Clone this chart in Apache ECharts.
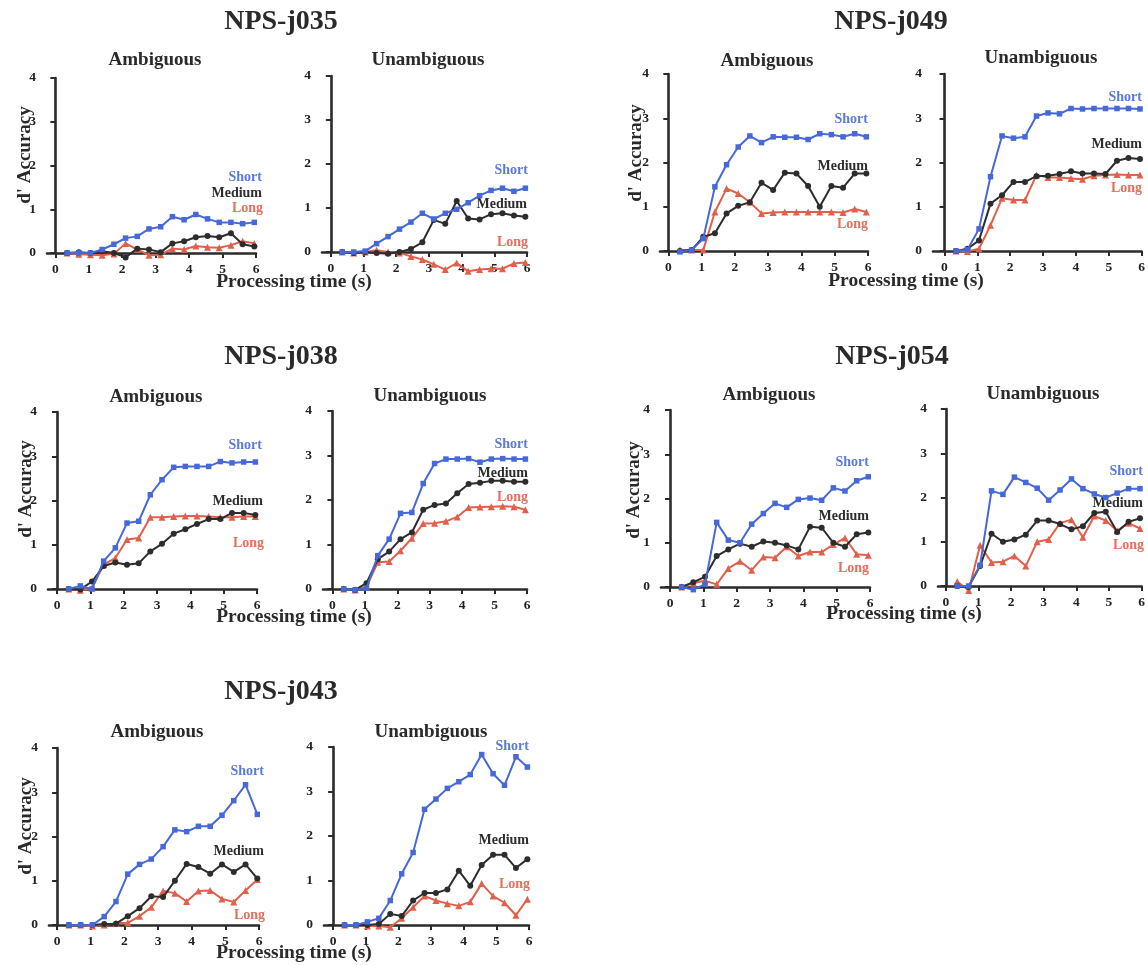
<!DOCTYPE html>
<html><head><meta charset="utf-8">
<script src="https://cdn.jsdelivr.net/npm/echarts@6/dist/echarts.min.js"></script>
<style>html,body{margin:0;padding:0;background:#fff}#c{width:1148px;height:965px}</style>
</head><body><div id="c"></div>
<script>
// ---------- data ----------
const times = [0.35,0.70,1.05,1.40,1.75,2.10,2.45,2.80,3.15,3.50,3.85,4.20,4.55,4.90,5.25,5.60,5.95];
const xTicks = [0,1,2,3,4,5,6];
const participants = ['NPS-j035','NPS-j049','NPS-j038','NPS-j054','NPS-j043'];
const conditions = ['Ambiguous','Unambiguous'];
const lengths = ['Short','Medium','Long'];
const yTitle = "d' Accuracy";
const xTitle = 'Processing time (s)';

const j035_amb_short   = [0, 0, 0, 0.08, 0.2, 0.34, 0.38, 0.55, 0.6, 0.83, 0.76, 0.88, 0.78, 0.7, 0.7, 0.67, 0.7];
const j035_amb_medium  = [0, 0.02, 0, 0.04, 0, -0.1, 0.1, 0.08, 0.02, 0.22, 0.27, 0.36, 0.39, 0.36, 0.45, 0.2, 0.15];
const j035_amb_long    = [0, -0.03, -0.04, -0.05, -0.02, 0.22, 0.08, -0.05, -0.04, 0.1, 0.08, 0.16, 0.13, 0.12, 0.18, 0.27, 0.22];
const j035_unamb_short = [0, 0, 0.02, 0.19, 0.35, 0.52, 0.68, 0.88, 0.75, 0.88, 0.97, 1.12, 1.28, 1.4, 1.45, 1.38, 1.45];
const j035_unamb_medium= [0, -0.02, 0, -0.02, -0.04, 0, 0.07, 0.22, 0.73, 0.64, 1.16, 0.76, 0.74, 0.86, 0.88, 0.83, 0.8];
const j035_unamb_long  = [0, -0.02, 0, 0.04, 0, -0.02, -0.1, -0.17, -0.28, -0.4, -0.25, -0.44, -0.4, -0.38, -0.38, -0.26, -0.24];

const j049_amb_short   = [-0.02, 0.02, 0.28, 1.45, 1.95, 2.35, 2.6, 2.45, 2.58, 2.57, 2.57, 2.52, 2.65, 2.63, 2.58, 2.65, 2.58];
const j049_amb_medium  = [0, 0.02, 0.32, 0.4, 0.85, 1.02, 1.1, 1.54, 1.38, 1.77, 1.75, 1.47, 1.0, 1.47, 1.43, 1.75, 1.75];
const j049_amb_long    = [0.02, 0.02, 0.02, 0.88, 1.41, 1.3, 1.1, 0.85, 0.87, 0.88, 0.88, 0.88, 0.88, 0.88, 0.87, 0.95, 0.88];
const j049_unamb_short = [0, 0.03, 0.5, 1.68, 2.6, 2.55, 2.58, 3.05, 3.12, 3.1, 3.22, 3.21, 3.22, 3.22, 3.22, 3.22, 3.21];
const j049_unamb_medium= [0, 0.05, 0.24, 1.07, 1.26, 1.56, 1.56, 1.69, 1.7, 1.74, 1.8, 1.75, 1.75, 1.74, 2.04, 2.1, 2.08];
const j049_unamb_long  = [0, -0.01, 0.05, 0.58, 1.19, 1.15, 1.15, 1.72, 1.66, 1.66, 1.64, 1.62, 1.7, 1.72, 1.73, 1.72, 1.72];

const j038_amb_short   = [0, 0.07, 0, 0.63, 0.93, 1.49, 1.53, 2.13, 2.47, 2.75, 2.77, 2.77, 2.77, 2.88, 2.85, 2.87, 2.87];
const j038_amb_medium  = [0, -0.01, 0.17, 0.52, 0.6, 0.55, 0.58, 0.85, 1.02, 1.25, 1.35, 1.47, 1.58, 1.58, 1.72, 1.72, 1.67];
const j038_amb_long    = [0, -0.03, 0.02, 0.55, 0.7, 1.12, 1.15, 1.62, 1.62, 1.64, 1.65, 1.65, 1.64, 1.62, 1.62, 1.64, 1.64];
const j038_unamb_short = [0, -0.02, 0.02, 0.75, 1.12, 1.7, 1.72, 2.37, 2.82, 2.92, 2.92, 2.93, 2.85, 2.92, 2.93, 2.92, 2.92];
const j038_unamb_medium= [0, -0.02, 0.13, 0.67, 0.84, 1.12, 1.27, 1.78, 1.89, 1.92, 2.15, 2.36, 2.39, 2.43, 2.43, 2.41, 2.41];
const j038_unamb_long  = [0, -0.02, 0.05, 0.6, 0.62, 0.86, 1.14, 1.47, 1.48, 1.52, 1.62, 1.83, 1.84, 1.85, 1.86, 1.85, 1.78];

const j054_amb_short   = [0, -0.06, 0.06, 1.46, 1.06, 1.0, 1.42, 1.66, 1.89, 1.8, 1.98, 2.01, 1.96, 2.24, 2.17, 2.4, 2.49];
const j054_amb_medium  = [0, 0.11, 0.23, 0.7, 0.85, 0.98, 0.91, 1.03, 1.0, 0.94, 0.85, 1.36, 1.34, 1.0, 0.91, 1.19, 1.23];
const j054_amb_long    = [0, 0.09, 0.14, 0.06, 0.42, 0.58, 0.38, 0.68, 0.66, 0.91, 0.7, 0.79, 0.79, 0.96, 1.11, 0.74, 0.72];
const j054_unamb_short = [0, 0, 0.47, 2.15, 2.07, 2.46, 2.34, 2.21, 1.94, 2.17, 2.42, 2.2, 2.08, 2.0, 2.1, 2.2, 2.2];
const j054_unamb_medium= [0, -0.02, 0.45, 1.18, 1.0, 1.05, 1.16, 1.48, 1.48, 1.4, 1.28, 1.35, 1.65, 1.68, 1.22, 1.45, 1.53];
const j054_unamb_long  = [0.1, -0.1, 0.92, 0.53, 0.55, 0.68, 0.45, 1.0, 1.05, 1.42, 1.5, 1.1, 1.58, 1.48, 1.25, 1.42, 1.3];

const j043_amb_short   = [0, 0, 0, 0.19, 0.53, 1.15, 1.37, 1.49, 1.77, 2.15, 2.11, 2.23, 2.23, 2.48, 2.81, 3.17, 2.5];
const j043_amb_medium  = [0, 0, 0, 0.02, 0.03, 0.2, 0.38, 0.65, 0.63, 1.0, 1.38, 1.31, 1.16, 1.37, 1.2, 1.37, 1.05];
const j043_amb_long    = [0, 0, -0.02, 0, 0.04, 0.05, 0.2, 0.4, 0.77, 0.72, 0.53, 0.77, 0.78, 0.59, 0.52, 0.78, 1.03];
const j043_unamb_short = [0, 0, 0.07, 0.15, 0.55, 1.15, 1.63, 2.6, 2.83, 3.07, 3.22, 3.38, 3.83, 3.4, 3.14, 3.78, 3.55];
const j043_unamb_medium= [0, 0, 0, 0.02, 0.25, 0.2, 0.55, 0.72, 0.72, 0.8, 1.22, 0.88, 1.35, 1.58, 1.58, 1.28, 1.48];
const j043_unamb_long  = [0, 0, -0.02, -0.02, -0.05, 0.15, 0.4, 0.65, 0.55, 0.48, 0.43, 0.52, 0.93, 0.65, 0.5, 0.22, 0.58];

const panelData = [
  [j035_amb_short, j035_amb_medium, j035_amb_long],
  [j035_unamb_short, j035_unamb_medium, j035_unamb_long],
  [j049_amb_short, j049_amb_medium, j049_amb_long],
  [j049_unamb_short, j049_unamb_medium, j049_unamb_long],
  [j038_amb_short, j038_amb_medium, j038_amb_long],
  [j038_unamb_short, j038_unamb_medium, j038_unamb_long],
  [j054_amb_short, j054_amb_medium, j054_amb_long],
  [j054_unamb_short, j054_unamb_medium, j054_unamb_long],
  [j043_amb_short, j043_amb_medium, j043_amb_long],
  [j043_unamb_short, j043_unamb_medium, j043_unamb_long]
];

// ---------- layout (pixels) ----------
const layout = [
  {left:47,  top:78,  w:209, h:175, xMin:-0.25, lab:[[262,177],[262,193],[263,208]]},
  {left:322, top:76,  w:205, h:176, xMin:-0.27, lab:[[528,170],[527,204],[528,242]]},
  {left:660, top:74,  w:208, h:177, xMin:-0.25, lab:[[868,119],[868,166],[868,224]]},
  {left:933, top:74,  w:210, h:177, xMin:-0.35, lab:[[1142,97],[1142,144],[1142,188]]},
  {left:48,  top:412, w:209, h:177, xMin:-0.27, lab:[[262,445],[263,501],[264,543]]},
  {left:323, top:411, w:204, h:178, xMin:-0.29, lab:[[528,444],[528,473],[528,497]]},
  {left:661, top:410, w:209, h:177, xMin:-0.27, lab:[[869,462],[869,516],[869,568]]},
  {left:938, top:409, w:207, h:177, xMin:-0.24, lab:[[1143,471],[1143,503],[1144,545]]},
  {left:49,  top:748, w:210, h:177, xMin:-0.24, lab:[[264,771],[264,851],[265,915]]},
  {left:324, top:747, w:205, h:178, xMin:-0.28, lab:[[529,746],[529,840],[530,884]]}
];
const titlePos = [[281,22],[891,22],[281,357],[892,357],[281,692]];
const subPos = [[155,60],[428,60],[767,61],[1041,58],[156,397],[430,396],[769,395],[1043,394],[157,732],[431,732]];
const yTitlePos = [[25,155],[636,153],[26,489],[634,490],[26,826]];
const xTitlePos = [[294,282],[906,281],[294,617],[904,614],[294,953]];

const serif = '"Liberation Serif", "Times New Roman", serif';
const lineColors = ['#4668d8', '#2d2d2d', '#e0604c'];
const textColors = ['#5a7bdc', '#2d2d2d', '#e2705c'];
const symbols = ['rect', 'circle', 'triangle'];
const symSizes = [5.5, 6, 7];
const axisColor = '#2b2b2b';

const grid = [], xAxis = [], yAxis = [], series = [], graphic = [];
layout.forEach((L, i) => {
  grid.push({left: L.left, top: L.top, width: L.w, height: L.h, containLabel: false});
  xAxis.push({
    gridIndex: i, type: 'value', min: L.xMin, max: 6,
    axisLine: {show: true, onZero: false, lineStyle: {color: axisColor, width: 2.6}},
    axisTick: {show: true, length: 5, customValues: xTicks, lineStyle: {color: axisColor, width: 2}},
    axisLabel: {customValues: xTicks, fontFamily: serif, fontWeight: 'bold', fontSize: 13.5, color: '#222', margin: 10},
    splitLine: {show: false}
  });
  yAxis.push({
    gridIndex: i, type: 'value', min: 0, max: 4, interval: 1,
    axisLine: {show: true, lineStyle: {color: axisColor, width: 2.6}},
    axisTick: {show: true, length: 5, lineStyle: {color: axisColor, width: 2}},
    axisLabel: {fontFamily: serif, fontWeight: 'bold', fontSize: 13.5, color: '#222', margin: 11},
    splitLine: {show: false}
  });
  panelData[i].forEach((vals, s) => {
    series.push({
      type: 'line', name: lengths[s], xAxisIndex: i, yAxisIndex: i,
      data: times.map((t, k) => [t, vals[k]]),
      symbol: symbols[s], symbolSize: symSizes[s], showSymbol: true,
      clip: false, animation: false, z: 3 - s,
      itemStyle: {color: lineColors[s]},
      lineStyle: {color: lineColors[s], width: 2}
    });
    graphic.push({
      type: 'text', x: L.lab[s][0], y: L.lab[s][1],
      style: {text: lengths[s], font: 'bold 14px ' + serif, fill: textColors[s], align: 'right', verticalAlign: 'middle'}
    });
  });
  graphic.push({
    type: 'text', x: subPos[i][0], y: subPos[i][1],
    style: {text: conditions[i % 2], font: 'bold 19px ' + serif, fill: '#2a2a2a', align: 'center', verticalAlign: 'middle'}
  });
});
participants.forEach((p, j) => {
  graphic.push({type: 'text', x: titlePos[j][0], y: titlePos[j][1],
    style: {text: p, font: 'bold 28px ' + serif, fill: '#2a2a2a', align: 'center', verticalAlign: 'middle'}});
  graphic.push({type: 'text', x: yTitlePos[j][0], y: yTitlePos[j][1], rotation: Math.PI / 2,
    style: {text: yTitle, font: 'bold 19px ' + serif, fill: '#2a2a2a', align: 'center', verticalAlign: 'middle'}});
  graphic.push({type: 'text', x: xTitlePos[j][0], y: xTitlePos[j][1],
    style: {text: xTitle, font: 'bold 19.5px ' + serif, fill: '#2a2a2a', align: 'center', verticalAlign: 'middle'}});
});

const chart = echarts.init(document.getElementById('c'), null, {renderer: 'canvas'});
chart.setOption({backgroundColor: '#ffffff', animation: false, grid, xAxis, yAxis, series, graphic});
</script>
</body></html>
